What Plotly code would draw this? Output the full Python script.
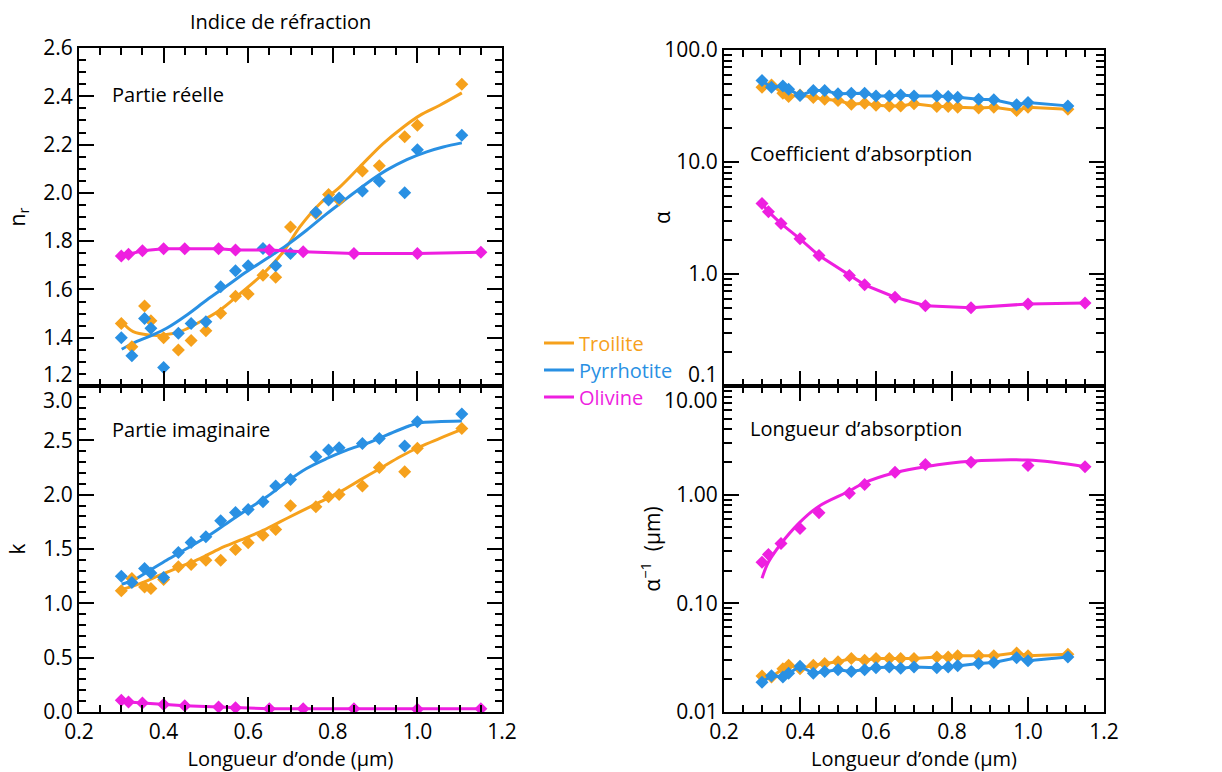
import numpy as np
import plotly.graph_objects as go

# ---------------- data ----------------
sulf_wl = [0.30, 0.325, 0.355, 0.37, 0.40, 0.435, 0.465, 0.50, 0.535, 0.57, 0.60,
           0.635, 0.665, 0.70, 0.76, 0.79, 0.815, 0.87, 0.91, 0.97, 1.00, 1.105]
oliv_wl = [0.30, 0.317, 0.35, 0.40, 0.45, 0.53, 0.57, 0.65, 0.73, 0.85, 1.00, 1.15]

# real part n_r
nr_troilite = [1.459, 1.363, 1.531, 1.470, 1.400, 1.349, 1.388, 1.429, 1.501, 1.572, 1.581,
               1.659, 1.650, 1.859, 1.914, 1.993, 1.970, 2.091, 2.112, 2.232, 2.280, 2.450]
nr_pyrrhotite = [1.400, 1.325, 1.480, 1.439, 1.277, 1.418, 1.459, 1.466, 1.611, 1.677, 1.698,
                 1.770, 1.698, 1.749, 1.920, 1.970, 1.979, 2.008, 2.048, 2.000, 2.179, 2.239]
nr_olivine = [1.738, 1.746, 1.760, 1.768, 1.768, 1.768, 1.763, 1.763, 1.756, 1.749, 1.749, 1.754]

# imaginary part k
k_troilite = [1.115, 1.228, 1.151, 1.136, 1.220, 1.336, 1.357, 1.397, 1.397, 1.495, 1.557,
              1.627, 1.679, 1.897, 1.888, 1.980, 2.002, 2.079, 2.251, 2.211, 2.426, 2.610]
k_pyrrhotite = [1.250, 1.191, 1.320, 1.280, 1.237, 1.468, 1.560, 1.612, 1.759, 1.836, 1.864,
                1.934, 2.079, 2.140, 2.349, 2.410, 2.432, 2.472, 2.518, 2.447, 2.671, 2.742]
k_olivine = [0.107, 0.092, 0.083, 0.068, 0.058, 0.046, 0.040, 0.031, 0.031, 0.031, 0.025, 0.031]

# absorption coefficient alpha
alpha_troilite = [46.5, 48.8, 41.0, 38.4, 39.7, 37.6, 36.3, 35.4, 32.8, 33.5, 32.1,
                  31.7, 31.7, 33.1, 31.3, 31.3, 30.8, 30.3, 30.8, 28.8, 30.8, 29.6]
alpha_pyrrhotite = [53.3, 46.4, 47.8, 44.7, 39.2, 43.5, 43.5, 40.6, 41.0, 41.0, 38.9,
                    38.9, 39.7, 38.9, 38.9, 38.4, 37.9, 36.3, 35.9, 32.4, 34.0, 31.7]
alpha_olivine = [4.25, 3.60, 2.82, 2.06, 1.46, 0.97, 0.80, 0.62, 0.52, 0.50, 0.54, 0.55]

# absorption length 1/alpha (um)
alen_troilite = [0.0215, 0.0210, 0.0250, 0.0270, 0.0250, 0.0270, 0.0280, 0.0290, 0.0310, 0.0300, 0.0310,
                 0.0310, 0.0310, 0.0310, 0.0320, 0.0320, 0.0330, 0.0330, 0.0330, 0.0350, 0.0330, 0.0340]
alen_pyrrhotite = [0.0188, 0.0216, 0.0210, 0.0227, 0.0264, 0.0227, 0.0236, 0.0245, 0.0236, 0.0245, 0.0255,
                   0.0260, 0.0253, 0.0260, 0.0255, 0.0260, 0.0267, 0.0280, 0.0286, 0.0316, 0.0297, 0.0320]
alen_olivine = [0.239, 0.282, 0.356, 0.489, 0.681, 1.03, 1.24, 1.61, 1.90, 1.99, 1.86, 1.81]

# smooth fits
fit_nr_tro_x = [0.301, 0.328, 0.368, 0.399, 0.439, 0.486, 0.533, 0.581, 0.636, 0.683, 0.722,
                0.770, 0.817, 0.864, 0.919, 0.967, 1.006, 1.053, 1.105]
fit_nr_tro = [1.466, 1.425, 1.411, 1.411, 1.425, 1.466, 1.514, 1.583, 1.666, 1.756, 1.859,
              1.956, 2.025, 2.108, 2.204, 2.273, 2.321, 2.363, 2.414]
fit_nr_pyr_x = [0.301, 0.328, 0.368, 0.407, 0.455, 0.502, 0.549, 0.596, 0.644, 0.691, 0.738,
                0.786, 0.833, 0.880, 0.927, 0.975, 1.022, 1.061, 1.105]
fit_nr_pyr = [1.352, 1.377, 1.407, 1.439, 1.494, 1.556, 1.614, 1.673, 1.728, 1.783, 1.845,
              1.914, 1.977, 2.039, 2.094, 2.138, 2.170, 2.190, 2.207]
fit_k_pyr_x = [0.301, 0.328, 0.368, 0.407, 0.455, 0.502, 0.549, 0.596, 0.644, 0.691, 0.738,
               0.786, 0.833, 0.880, 0.927, 0.975, 1.006, 1.046, 1.105]
fit_k_pyr = [1.176, 1.213, 1.305, 1.397, 1.504, 1.612, 1.735, 1.858, 1.980, 2.119, 2.241,
             2.333, 2.410, 2.472, 2.548, 2.625, 2.662, 2.671, 2.677]
fit_k_tro_x = [0.301, 0.344, 0.391, 0.439, 0.486, 0.533, 0.581, 0.628, 0.675, 0.722, 0.770,
               0.817, 0.864, 0.912, 0.959, 1.006, 1.053, 1.105]
fit_k_tro = [1.127, 1.182, 1.259, 1.336, 1.412, 1.504, 1.581, 1.658, 1.750, 1.842, 1.934,
             2.026, 2.134, 2.241, 2.349, 2.441, 2.518, 2.600]
fit_alen_oli_x = [0.300, 0.317, 0.349, 0.398, 0.449, 0.530, 0.568, 0.649, 0.730, 0.849, 1.000, 1.151]
fit_alen_oli = [0.17, 0.24, 0.35, 0.55, 0.78, 1.08, 1.28, 1.59, 1.81, 2.03, 2.08, 1.81]

# tick labels
x_tickvals = [0.2, 0.4, 0.6, 0.8, 1.0, 1.2]
x_ticktext = ["0.2", "0.4", "0.6", "0.8", "1.0", "1.2"]
nr_tickvals = [1.4, 1.6, 1.8, 2.0, 2.2, 2.4, 2.6]
nr_ticktext = ["1.4", "1.6", "1.8", "2.0", "2.2", "2.4", "2.6"]
k_tickvals = [0, 0.5, 1.0, 1.5, 2.0, 2.5]
k_ticktext = ["0.0", "0.5", "1.0", "1.5", "2.0", "2.5"]
alpha_tickvals = [1, 10, 100]
alpha_ticktext = ["1.0", "10.0", "100.0"]
alen_tickvals = [0.01, 0.1, 1]
alen_ticktext = ["0.01", "0.10", "1.00"]

names = ["Troilite", "Pyrrhotite", "Olivine"]
C_TRO = "#F6A11C"
C_PYR = "#2990E3"
C_OLI = "#EE1FE0"

FONT = "Open Sans"
TICKFONT = dict(family=FONT, size=21, color="black")

fig = go.Figure()

MS = 10
LW = 3


def markers(x, y, c, xa, ya):
    fig.add_trace(go.Scatter(x=x, y=y, mode="markers", xaxis=xa, yaxis=ya, showlegend=False,
                             marker=dict(symbol="diamond", size=MS, color=c, line=dict(width=0))))


def line(x, y, c, xa, ya, shape="spline"):
    fig.add_trace(go.Scatter(x=x, y=y, mode="lines", xaxis=xa, yaxis=ya, showlegend=False,
                             line=dict(color=c, width=LW, shape=shape, smoothing=1.0)))


def linemark(x, y, c, xa, ya):
    fig.add_trace(go.Scatter(x=x, y=y, mode="lines+markers", xaxis=xa, yaxis=ya, showlegend=False,
                             line=dict(color=c, width=LW),
                             marker=dict(symbol="diamond", size=MS, color=c, line=dict(width=0))))


# top-left n_r
line(fit_nr_tro_x, fit_nr_tro, C_TRO, "x", "y")
line(fit_nr_pyr_x, fit_nr_pyr, C_PYR, "x", "y")
markers(sulf_wl, nr_troilite, C_TRO, "x", "y")
markers(sulf_wl, nr_pyrrhotite, C_PYR, "x", "y")
linemark(oliv_wl, nr_olivine, C_OLI, "x", "y")

# bottom-left k
line(fit_k_tro_x, fit_k_tro, C_TRO, "x2", "y2")
line(fit_k_pyr_x, fit_k_pyr, C_PYR, "x2", "y2")
markers(sulf_wl, k_troilite, C_TRO, "x2", "y2")
markers(sulf_wl, k_pyrrhotite, C_PYR, "x2", "y2")
linemark(oliv_wl, k_olivine, C_OLI, "x2", "y2")

# top-right alpha
linemark(sulf_wl, alpha_troilite, C_TRO, "x3", "y3")
linemark(sulf_wl, alpha_pyrrhotite, C_PYR, "x3", "y3")
linemark(oliv_wl, alpha_olivine, C_OLI, "x3", "y3")

# bottom-right absorption length
linemark(sulf_wl, alen_troilite, C_TRO, "x4", "y4")
linemark(sulf_wl, alen_pyrrhotite, C_PYR, "x4", "y4")
line(fit_alen_oli_x, fit_alen_oli, C_OLI, "x4", "y4")
markers(oliv_wl, alen_olivine, C_OLI, "x4", "y4")

# legend entries (one legend box per entry so the spacing can follow the reference)
legend_ids = ["legend", "legend2", "legend3"]
for n, c, lg in zip(names, [C_TRO, C_PYR, C_OLI], legend_ids):
    fig.add_trace(go.Scatter(x=[None], y=[None], mode="lines", xaxis="x2", yaxis="y2",
                             name=f"<span style='color:{c}'>{n}</span>", legend=lg,
                             line=dict(color=c, width=LW)))

W, H = 1222, 772
LX = [79 / W, 502 / W]
RX = [724 / W, 1104 / W]
TOP = [0.5, 1 - 48 / H]
TOPR = [0.5, 1 - 50 / H]
BOT = [1 - 712 / H, 0.5]

base = dict(showline=True, linecolor="black", linewidth=2, mirror="ticks", ticks="inside",
            ticklen=15, tickwidth=2, tickcolor="black", showgrid=False, zeroline=False,
            tickfont=TICKFONT, automargin=False)

xminor = dict(ticks="inside", ticklen=7, tickwidth=2, tickcolor="black", tickmode="array",
              tickvals=[round(v, 2) for v in np.arange(0.2, 1.2001, 0.05)], showgrid=False)

xtitle = dict(text="Longueur d’onde (µm)", font=dict(family=FONT, size=20, color="black"), standoff=4)

leg = dict(x=539 / W, xanchor="left", yanchor="middle", bgcolor="rgba(0,0,0,0)",
           font=dict(family=FONT, size=20), itemwidth=30)

fig.update_layout(
    xaxis=dict(base, domain=LX, anchor="y", range=[0.2, 1.2], tickvals=x_tickvals,
               showticklabels=False, minor=xminor),
    xaxis2=dict(base, domain=LX, anchor="y2", range=[0.2, 1.2], tickvals=x_tickvals, ticktext=x_ticktext,
                minor=xminor, title=xtitle),
    xaxis3=dict(base, domain=RX, anchor="y3", range=[0.2, 1.2], tickvals=x_tickvals,
                showticklabels=False, minor=xminor),
    xaxis4=dict(base, domain=RX, anchor="y4", range=[0.2, 1.2], tickvals=x_tickvals, ticktext=x_ticktext,
                minor=xminor, title=xtitle),
    yaxis=dict(base, domain=TOP, anchor="x", range=[1.2, 2.6],
               tickvals=nr_tickvals, ticktext=nr_ticktext,
               minor=dict(ticks="inside", ticklen=7, tickwidth=2, tickcolor="black", tickmode="array",
                          tickvals=[round(v, 2) for v in np.arange(1.2, 2.6001, 0.05)]),
               title=dict(text="n<sub>r</sub>", font=dict(family=FONT, size=21, color="black"), standoff=12)),
    yaxis2=dict(base, domain=BOT, anchor="x2", range=[0, 3.0],
                tickvals=k_tickvals, ticktext=k_ticktext,
                minor=dict(ticks="inside", ticklen=7, tickwidth=2, tickcolor="black", tickmode="array",
                           tickvals=[round(v, 2) for v in np.arange(0, 3.0001, 0.1)]),
                title=dict(text="k", font=dict(family=FONT, size=21, color="black"), standoff=12)),
    yaxis3=dict(base, domain=TOPR, anchor="x3", type="log", range=[-1, 2],
                tickvals=alpha_tickvals, ticktext=alpha_ticktext,
                minor=dict(ticks="inside", ticklen=8, tickwidth=2, tickcolor="black", tickmode="array",
                           tickvals=[m * 10.0 ** e for e in (-1, 0, 1) for m in range(2, 10)])),
    yaxis4=dict(base, domain=BOT, anchor="x4", type="log", range=[-2, 1],
                tickvals=alen_tickvals, ticktext=alen_ticktext,
                minor=dict(ticks="inside", ticklen=8, tickwidth=2, tickcolor="black", tickmode="array",
                           tickvals=[m * 10.0 ** e for e in (-2, -1, 0) for m in range(2, 10)]),
                title=dict(text="α<sup>−1</sup>  (µm)", font=dict(family=FONT, size=21, color="black"),
                           standoff=10)),
    width=W, height=H, autosize=False,
    margin=dict(l=0, r=0, t=0, b=0),
    paper_bgcolor="white", plot_bgcolor="white",
    font=dict(family=FONT, size=20, color="black"),
    showlegend=True,
    legend=dict(leg, y=1 - 343 / H),
    legend2=dict(leg, y=1 - 370 / H),
    legend3=dict(leg, y=1 - 397 / H),
)

ann = [
    dict(text="Indice de réfraction", xref="paper", yref="paper", x=280 / W, y=1 - 22 / H,
         xanchor="center", yanchor="middle", showarrow=False, font=dict(family=FONT, size=20)),
    dict(text="Partie réelle", xref="x domain", yref="y domain", x=0.073, y=0.861,
         xanchor="left", yanchor="middle", showarrow=False, font=dict(family=FONT, size=20)),
    dict(text="Partie imaginaire", xref="x2 domain", yref="y2 domain", x=0.073, y=0.868,
         xanchor="left", yanchor="middle", showarrow=False, font=dict(family=FONT, size=20)),
    dict(text="Coefficient d’absorption", xref="x3 domain", yref="y3 domain", x=0.063, y=0.693,
         xanchor="left", yanchor="middle", showarrow=False, font=dict(family=FONT, size=20)),
    dict(text="Longueur d’absorption", xref="x4 domain", yref="y4 domain", x=0.063, y=0.870,
         xanchor="left", yanchor="middle", showarrow=False, font=dict(family=FONT, size=20)),
    # y title of the alpha panel (placed like the reference, closer than Plotly's standoff allows)
    dict(text="α", xref="paper", yref="y3 domain", x=662 / W, y=0.5, textangle=-90,
         xanchor="center", yanchor="middle", showarrow=False, font=dict(family=FONT, size=21)),
    # boundary tick labels, offset to avoid overlap
    dict(text="1.2", xref="x domain", yref="y", x=0, y=1.2, xanchor="right", yanchor="bottom",
         xshift=-4, yshift=-4, showarrow=False, font=TICKFONT),
    dict(text="3.0", xref="x2 domain", yref="y2", x=0, y=3.0, xanchor="right", yanchor="top",
         xshift=-4, yshift=2, showarrow=False, font=TICKFONT),
    dict(text="0.1", xref="x3 domain", yref="y3", x=0, y=-1, xanchor="right", yanchor="bottom",
         xshift=-4, yshift=-4, showarrow=False, font=TICKFONT),
    dict(text="10.00", xref="x4 domain", yref="y4", x=0, y=1, xanchor="right", yanchor="top",
         xshift=-4, yshift=2, showarrow=False, font=TICKFONT),
]
fig.update_layout(annotations=ann)

fig.write_html("out.html", config={"displayModeBar": False},
               post_script="document.body.style.margin='0';document.body.style.overflow='hidden';")
